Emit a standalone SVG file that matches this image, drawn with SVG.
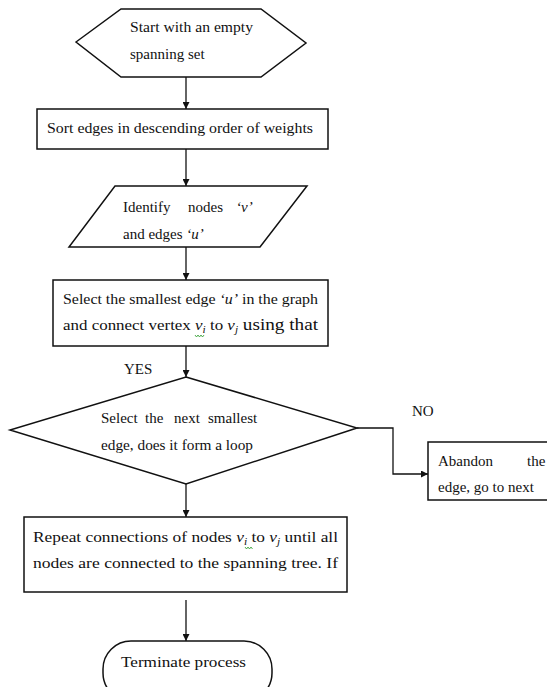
<svg xmlns="http://www.w3.org/2000/svg" width="547" height="687" viewBox="0 0 547 687">
<style>
.s{fill:#fff;stroke:#111;stroke-width:1.5}
.c{fill:none;stroke:#111;stroke-width:1.3}
text{font-family:"Liberation Serif","DejaVu Serif",serif;font-size:15px;fill:#111}
.i{font-style:italic}
.sq{fill:none;stroke:#2a9a2a;stroke-width:0.8}
</style>
<defs>
<marker id="a" viewBox="0 0 10 10" refX="10" refY="5" markerWidth="7" markerHeight="7" markerUnits="userSpaceOnUse" orient="auto">
<path d="M0,0L10,5L0,10z" fill="#111"/>
</marker>
</defs>
<rect width="547" height="687" fill="#fff"/>
<g id="connectors">
<path class="c" d="M186,77V109" marker-end="url(#a)"/>
<path class="c" d="M186,149V186" marker-end="url(#a)"/>
<path class="c" d="M186,247V280" marker-end="url(#a)"/>
<path class="c" d="M186,346V377" marker-end="url(#a)"/>
<path class="c" d="M357,428H393V474H428" marker-end="url(#a)"/>
<path class="c" d="M186,484V517" marker-end="url(#a)"/>
<path class="c" d="M186,600V641" marker-end="url(#a)"/>
<text x="124" y="374">YES</text>
<text x="412" y="416">NO</text>
</g>
<g id="start">
<polygon class="s" points="76,42 121,9 261,9 306,43 261,77 121,77"/>
<text x="130" y="32" textLength="123" lengthAdjust="spacingAndGlyphs">Start with an empty</text>
<text x="130" y="59">spanning set</text>
</g>
<g id="sort">
<rect class="s" x="37" y="109" width="291" height="40"/>
<text x="47" y="133" textLength="266" lengthAdjust="spacingAndGlyphs">Sort edges in descending order of weights</text>
</g>
<g id="identify">
<polygon class="s" points="115,186 307,186 260,247 69,247"/>
<text y="212"><tspan x="123">Identify</tspan><tspan x="188">nodes</tspan><tspan x="236" class="i">‘v’</tspan></text>
<text x="123" y="239">and edges <tspan class="i">‘u’</tspan></text>
</g>
<g id="select">
<rect class="s" x="53" y="280" width="275" height="66"/>
<text x="63" y="304" textLength="255" lengthAdjust="spacingAndGlyphs">Select the smallest edge <tspan class="i">‘u’</tspan> in the graph</text>
<text x="63" y="330" textLength="255" lengthAdjust="spacingAndGlyphs">and connect vertex <tspan class="i">v</tspan><tspan class="i" font-size="10" dy="3">i</tspan><tspan dy="-3"> to </tspan><tspan class="i">v</tspan><tspan class="i" font-size="10" dy="3">j</tspan><tspan dy="-3" font-size="17"> using that</tspan></text>
<path class="sq" d="M195,335l1.5,2l1.5,-2l1.5,2l1.5,-2l1.5,2l1.5,-2"/>
</g>
<g id="loop">
<polygon class="s" points="186,377 357,428 186,484 10,430"/>
<text y="423"><tspan x="101">Select</tspan><tspan x="145">the</tspan><tspan x="174">next</tspan><tspan x="208">smallest</tspan></text>
<text x="101" y="450" textLength="152" lengthAdjust="spacingAndGlyphs">edge, does it form a loop</text>
</g>
<g id="abandon">
<rect class="s" x="428" y="442" width="130" height="58"/>
<text y="466"><tspan x="438">Abandon</tspan><tspan x="527">the</tspan></text>
<text x="438" y="492">edge, go to next</text>
</g>
<g id="repeat">
<rect class="s" x="24" y="517" width="323" height="75"/>
<text x="33" y="542" textLength="305" lengthAdjust="spacingAndGlyphs">Repeat connections of nodes <tspan class="i">v</tspan><tspan class="i" font-size="10" dy="3">i</tspan><tspan dy="-3"> to </tspan><tspan class="i">v</tspan><tspan class="i" font-size="10" dy="3">j</tspan><tspan dy="-3"> until all</tspan></text>
<text x="33" y="568" textLength="305" lengthAdjust="spacingAndGlyphs">nodes are connected to the spanning tree. If</text>
<path class="sq" d="M245,547l1.5,2l1.5,-2l1.5,2l1.5,-2l1.5,2"/>
</g>
<g id="terminate">
<rect class="s" x="103" y="641" width="169" height="60" rx="28" ry="28"/>
<text x="121" y="667" font-size="17" textLength="125" lengthAdjust="spacingAndGlyphs">Terminate process</text>
</g>
</svg>
